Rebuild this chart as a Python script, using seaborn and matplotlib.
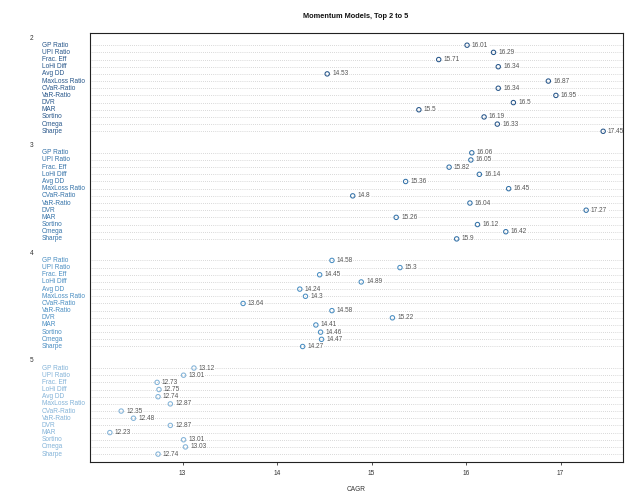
import matplotlib
matplotlib.use("Agg")
import matplotlib.pyplot as plt
import matplotlib.transforms as mtransforms
import numpy as np
import pandas as pd
import seaborn as sns

labels = ["GP Ratio", "UPI Ratio", "Frac. Eff", "LoHi Diff", "Avg DD", "MaxLoss Ratio",
          "CVaR-Ratio", "VaR-Ratio", "DVR", "MAR", "Sortino", "Omega", "Sharpe"]
groups = ["2", "3", "4", "5"]
top2 = [16.01, 16.29, 15.71, 16.34, 14.53, 16.87, 16.34, 16.95, 16.5, 15.5, 16.19, 16.33, 17.45]
top3 = [16.06, 16.05, 15.82, 16.14, 15.36, 16.45, 14.8, 16.04, 17.27, 15.26, 16.12, 16.42, 15.9]
top4 = [14.58, 15.3, 14.45, 14.89, 14.24, 14.3, 13.64, 14.58, 15.22, 14.41, 14.46, 14.47, 14.27]
top5 = [13.12, 13.01, 12.73, 12.75, 12.74, 12.87, 12.35, 12.48, 12.87, 12.23, 13.01, 13.03, 12.74]
group_colors = ["#27568a", "#3472a8", "#4a8ec2", "#83b3d8"]

rows = []
for g, vals in enumerate([top2, top3, top4, top5]):
    for i, (lab, v) in enumerate(zip(labels, vals)):
        # one header row per group, then the 13 items, then a blank row
        rows.append({"group": groups[g], "label": lab, "CAGR": v, "pos": g * 15 + 1 + i})
df = pd.DataFrame(rows)

sns.set_style("white")
plt.rcParams["font.family"] = ["Liberation Sans", "DejaVu Sans"]
fs = 4.7

fig = plt.figure(figsize=(6.4, 5.01), dpi=100)
ax = fig.add_axes([90 / 640, 1 - 462 / 501, 533 / 640, 429 / 501])

for p in df["pos"]:
    ax.axhline(p, color="#b5b5b5", lw=0.5, ls=(0, (1, 2)), zorder=0)

sns.scatterplot(data=df, x="CAGR", y="pos", hue="group", palette=group_colors,
                s=10, linewidth=0.75, legend=False, ax=ax, zorder=3)
for coll in ax.collections:
    fc = coll.get_facecolors()
    coll.set_edgecolors(fc)
    coll.set_facecolors("none")

for _, r in df.iterrows():
    ax.annotate(f"{r['CAGR']:g}", (r["CAGR"], r["pos"]), xytext=(3.5, 0),
                textcoords="offset points", va="center", ha="left",
                fontsize=fs, color="#555555", zorder=4, annotation_clip=False,
                clip_on=True,
                bbox=dict(boxstyle="square,pad=0.05", fc="white", ec="none"))

trans = mtransforms.blended_transform_factory(fig.transFigure, ax.transData)
for g, grp in enumerate(groups):
    col = group_colors[g]
    ax.text(30 / 640, g * 15, grp, transform=trans, fontsize=fs, color="#333333",
            va="center", ha="left", clip_on=False)
    for i, lab in enumerate(labels):
        ax.text(42 / 640, g * 15 + 1 + i, lab, transform=trans, fontsize=fs, color=col,
                va="center", ha="left", clip_on=False)

ax.set_xlim(12.02, 17.66)
ax.set_ylim(59.1, -0.7)
ax.set_yticks([])
ax.set_ylabel("")
ax.set_xticks([13, 14, 15, 16, 17])
ax.tick_params(axis="x", bottom=True, length=2.5, width=0.6, pad=3,
               labelsize=fs, labelcolor="#333333", color="#333333")
ax.set_xlabel("CAGR", fontsize=fs, color="#333333", labelpad=6.5)
for sp in ax.spines.values():
    sp.set_visible(True)
    sp.set_color("#222222")
    sp.set_linewidth(0.8)
    sp.set_zorder(5)

fig.text(356 / 640, 1 - 16 / 501, "Momentum Models, Top 2 to 5", ha="center", va="center",
         fontsize=5.3, fontweight="bold", color="#111111")

fig.savefig("out.png", dpi=100, facecolor="white")
